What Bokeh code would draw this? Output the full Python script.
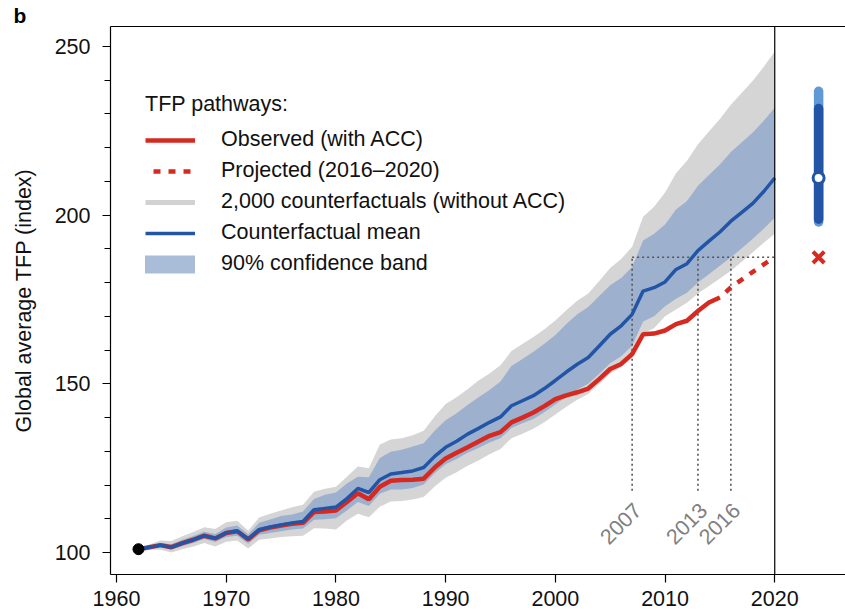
import numpy as np
from bokeh.plotting import figure
from bokeh.models import (Range1d, SingleIntervalTicker, FixedTicker, LinearAxis,
                          Span, Legend, LegendItem)
from bokeh.core.properties import value
from bokeh.embed import file_html
from bokeh.resources import INLINE

# ---------------- data ----------------
years = list(range(1962, 2021))
cf_mean = [101.0, 101.6, 102.2, 101.6, 102.8, 103.8, 105.0, 104.2, 105.9, 106.4,
           104.0, 106.8, 107.6, 108.2, 108.8, 109.2, 112.7, 113.1, 113.5, 116.0,
           119.0, 117.8, 121.6, 123.3, 123.7, 124.2, 125.2, 128.5, 131.2, 133.0,
           135.1, 136.8, 138.6, 140.2, 143.5, 145.0, 146.5, 148.6, 151.0, 153.5,
           155.8, 157.8, 161.2, 164.7, 167.2, 170.6, 177.5, 178.5, 180.2, 183.9,
           185.6, 189.5, 192.3, 195.0, 198.2, 200.8, 203.5, 207.0, 211.0]
cf_min = [101.0, 100.9, 100.8, 100.0, 101.0, 101.8, 102.8, 101.8, 103.2, 103.6,
          101.2, 103.8, 104.2, 104.6, 104.8, 105.0, 107.2, 107.1, 106.8, 109.5,
          111.5, 110.5, 113.6, 115.1, 115.3, 115.7, 116.5, 119.6, 122.2, 123.8,
          125.7, 127.3, 129.1, 130.7, 133.9, 135.2, 136.7, 138.6, 140.9, 143.2,
          145.3, 147.0, 150.0, 153.0, 155.0, 157.8, 165.0, 166.5, 170.0, 172.0,
          174.0, 176.8, 179.0, 181.2, 183.5, 186.2, 189.0, 191.8, 194.5]
cf_p05 = [101.0, 101.3, 101.6, 100.8, 101.9, 102.8, 104.0, 103.1, 104.6, 105.0,
          102.6, 105.3, 105.8, 106.3, 106.8, 107.1, 109.7, 109.9, 110.2, 112.5,
          115.0, 113.8, 117.4, 118.7, 118.7, 119.1, 120.2, 123.5, 126.2, 127.7,
          129.6, 131.0, 132.6, 133.9, 136.9, 138.3, 139.6, 141.6, 143.9, 146.2,
          148.3, 150.0, 153.0, 156.1, 158.2, 161.3, 168.5, 170.0, 173.0, 175.2,
          177.0, 180.0, 182.5, 185.0, 187.5, 190.2, 193.0, 196.0, 199.2]
cf_p95 = [101.0, 101.9, 102.8, 102.5, 103.8, 104.9, 106.2, 105.5, 107.4, 108.0,
          105.4, 108.8, 109.8, 110.8, 111.3, 112.2, 115.9, 117.1, 117.8, 120.5,
          122.5, 122.3, 128.0, 129.9, 130.5, 131.4, 132.4, 136.1, 139.2, 141.3,
          143.7, 146.0, 148.2, 150.7, 155.3, 157.4, 159.5, 161.9, 164.5, 167.7,
          170.6, 172.8, 176.0, 179.2, 181.4, 184.6, 192.5, 194.5, 197.2, 201.7,
          204.2, 208.7, 211.9, 215.0, 218.7, 221.6, 224.5, 228.0, 231.8]
cf_max = [101.0, 102.4, 103.6, 103.4, 104.8, 106.1, 107.5, 107.0, 109.0, 109.4,
          106.5, 110.4, 111.5, 112.5, 113.4, 114.2, 118.0, 118.9, 119.5, 122.5,
          125.5, 125.0, 132.0, 133.5, 133.9, 134.8, 136.1, 140.3, 144.0, 146.0,
          148.4, 151.0, 153.1, 155.5, 159.7, 161.8, 163.9, 166.2, 168.8, 171.8,
          174.6, 176.8, 180.5, 184.3, 187.0, 190.6, 199.5, 202.5, 206.7, 212.4,
          216.1, 221.0, 224.8, 228.5, 232.7, 236.3, 239.8, 244.0, 248.5]

obs_years = list(range(1962, 2016))
observed = [101.0, 101.6, 102.2, 101.6, 102.8, 103.8, 105.0, 104.2, 105.8, 106.3,
            103.9, 106.6, 107.4, 108.0, 108.5, 108.8, 112.0, 112.2, 112.5, 115.0,
            117.6, 115.8, 119.5, 121.3, 121.5, 121.6, 121.9, 125.2, 127.9, 129.6,
            131.2, 132.9, 134.6, 135.7, 138.6, 140.0, 141.5, 143.4, 145.5, 146.6,
            147.5, 148.6, 151.4, 154.4, 155.9, 158.8, 164.7, 164.9, 165.8, 167.7,
            168.7, 171.6, 174.1, 175.6]
proj_years = [2015, 2016, 2017, 2018, 2019, 2020]
projected = [175.6, 178.6, 180.9, 183.2, 185.4, 187.5]

mark_years = [2007, 2013, 2016]
mark_labels = ["2007", "2013", "2016"]
proj_2020 = 187.5

# 2020 counterfactual summary (drawn right of 2020)
summary_x = 2024.0
summary_outer = (198.0, 236.7)
summary_band = (198.8, 231.6)
summary_mean = 211.0

# ---------------- style ----------------
FONT = "Liberation Sans"
FS = "21.5px"
RED = "#d62a20"
BLUE = "#2255a6"
GRAY = "#d5d5d5"
BAND = "#9db1cf"
BAND_LEG = "#a9bcd8"
LIGHTBLUE = "#5f9ad6"
NAN = np.array([np.nan])

p = figure(width=845, height=614,
           x_range=Range1d(1959.45, 2026.45), y_range=Range1d(93.5, 255.9),
           output_backend="svg", toolbar_location=None,
           min_border_left=110, min_border_right=0, min_border_top=26,
           min_border_bottom=40)
p.outline_line_color = None
p.xgrid.visible = False
p.ygrid.visible = False
p.background_fill_color = "white"
p.border_fill_color = "white"

# panel letter as the (left-shifted) title
p.title.text = "b"
p.title.align = "left"
p.title.offset = -97
p.title.standoff = 0
p.title.text_font = FONT
p.title.text_font_size = "21px"
p.title.text_font_style = "bold"
p.title.text_color = "black"

# axes
xa = p.xaxis[0]
xa.ticker = FixedTicker(ticks=[1960, 1970, 1980, 1990, 2000, 2010, 2020])
xa.major_tick_out = 8
xa.major_tick_in = 0
xa.major_label_standoff = 8
ya = p.yaxis[0]
ya.ticker = SingleIntervalTicker(interval=50, num_minor_ticks=5)
ya.major_tick_out = 8
ya.major_tick_in = 0
ya.minor_tick_out = 6
ya.minor_tick_in = 0
ya.major_label_standoff = 12
ya.axis_label = "Global average TFP (index)"
ya.axis_label_standoff = 16
for ax in (xa, ya):
    ax.axis_line_color = "black"
    ax.axis_line_width = 1.2
    ax.major_tick_line_color = "black"
    ax.major_tick_line_width = 1.2
    ax.minor_tick_line_color = "black" if ax is ya else None
    ax.major_label_text_font = FONT
    ax.major_label_text_font_size = FS
    ax.major_label_text_color = "#111111"
    ax.axis_label_text_font = FONT
    ax.axis_label_text_font_size = FS
    ax.axis_label_text_font_style = "normal"
    ax.axis_label_text_color = "#111111"

top_ax = LinearAxis(ticker=FixedTicker(ticks=[]), axis_line_color="black",
                    axis_line_width=1.2, major_tick_line_color=None,
                    minor_tick_line_color=None, major_tick_out=0, minor_tick_out=0,
                    major_label_standoff=0)
p.add_layout(top_ax, "above")

# bands
p.varea(x=years, y1=cf_min, y2=cf_max, fill_color=GRAY)
p.varea(x=years, y1=cf_p05, y2=cf_p95, fill_color=BAND)

# guide lines
p.segment(x0=mark_years, y0=[118.3] * 3, x1=mark_years, y1=[proj_2020] * 3,
          line_color="#555555", line_width=1.6, line_dash="2 3")
p.segment(x0=[mark_years[0]], y0=[proj_2020], x1=[2020], y1=[proj_2020],
          line_color="#555555", line_width=1.6, line_dash="2 3")

# lines
r_obs = p.line(obs_years, observed, line_color=RED, line_width=4.5)
r_proj = p.line(proj_years, projected, line_color=RED, line_width=4.5,
                line_dash="7 8", line_dash_offset=7)
r_mean = p.line(years, cf_mean, line_color=BLUE, line_width=3.5)
# legend-only renderers (no visible data)
r_cf = p.line(x=NAN, y=NAN, line_color="#d2d2d2", line_width=5)
r_bandleg = p.line(x=NAN, y=NAN, line_color=BAND_LEG, line_width=18, line_cap="round")

# start point
p.scatter([years[0]], [cf_mean[0]], size=11, color="black")

# 2020 line
p.add_layout(Span(location=2020, dimension="height", line_color="black", line_width=1.2))

# year annotations
p.text(x=[y + 0.5 for y in mark_years], y=[113.6] * 3, text=mark_labels,
       angle=np.pi / 4, text_align="right", text_baseline="middle",
       text_color="#808080", text_font=value(FONT), text_font_size=FS)

# right summary bar
p.segment(x0=[summary_x], y0=[summary_outer[0]], x1=[summary_x], y1=[summary_outer[1]],
          line_color=LIGHTBLUE, line_width=9.5, line_cap="round")
p.segment(x0=[summary_x], y0=[summary_band[0]], x1=[summary_x], y1=[summary_band[1]],
          line_color=BLUE, line_width=9.5, line_cap="round")
p.scatter([summary_x], [summary_mean], size=11, fill_color="white",
          line_color=BLUE, line_width=3)
p.scatter([summary_x], [proj_2020], marker="x", size=16, line_color=RED, line_width=4)

# legend
legend = Legend(items=[
    LegendItem(label="Observed (with ACC)", renderers=[r_obs]),
    LegendItem(label="Projected (2016\u20132020)", renderers=[r_proj]),
    LegendItem(label="2,000 counterfactuals (without ACC)", renderers=[r_cf]),
    LegendItem(label="Counterfactual mean", renderers=[r_mean]),
    LegendItem(label="90% confidence band", renderers=[r_bandleg]),
], location=(35, 298), title="TFP pathways:",
    title_text_font=FONT, title_text_font_size=FS, title_text_font_style="normal",
    title_text_color="#111111", title_standoff=10,
    label_text_font=FONT, label_text_font_size=FS, label_text_color="#111111",
    label_standoff=26, glyph_width=50, glyph_height=20, label_height=20,
    spacing=6, padding=0, margin=0, border_line_color=None,
    background_fill_alpha=0)
p.add_layout(legend)

open("out.html", "w").write(file_html(p, INLINE))
